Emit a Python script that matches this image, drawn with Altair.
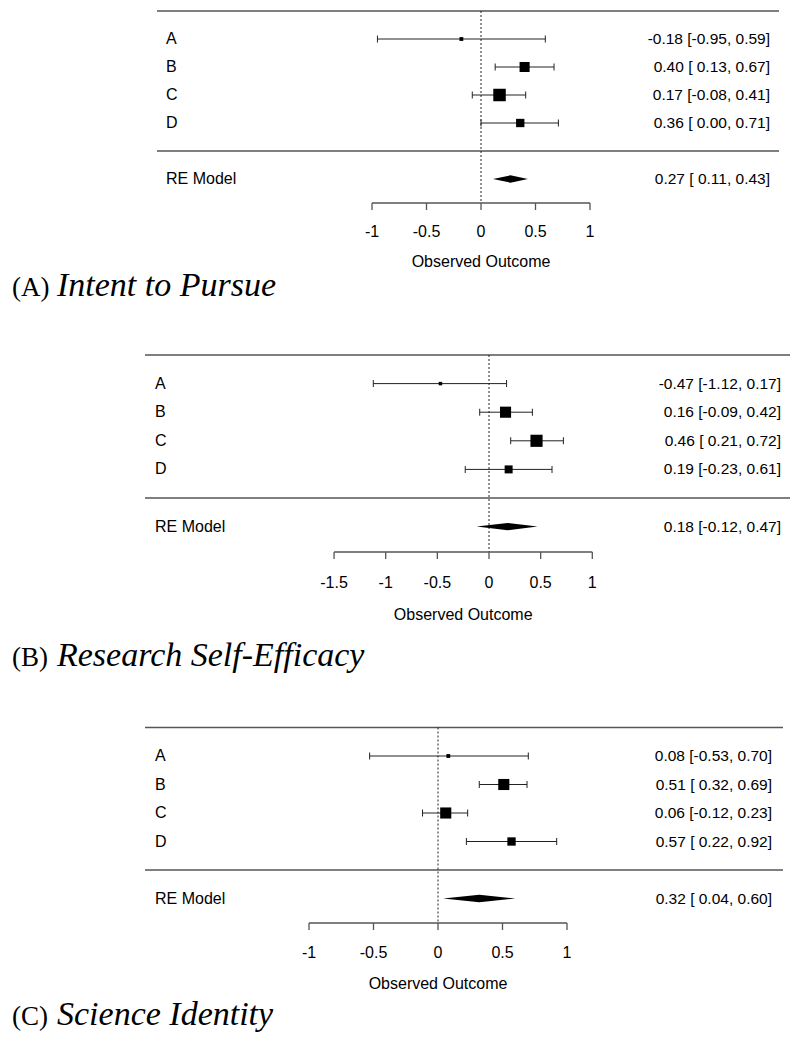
import altair as alt
import pandas as pd

# ---------------- data ----------------
studies = ["A", "B", "C", "D"]
re_label = "RE Model"
tags = ["(A)", "(B)", "(C)"]
outcomes = ["Intent to Pursue", "Research Self-Efficacy", "Science Identity"]
x_title = "Observed Outcome"

est_a = [-0.18, 0.40, 0.17, 0.36]
lo_a = [-0.95, 0.13, -0.08, 0.00]
hi_a = [0.59, 0.67, 0.41, 0.71]
wt_a = [11, 29, 36, 24]
re_a = [0.27, 0.11, 0.43]
ticks_a = [-1, -0.5, 0, 0.5, 1]

est_b = [-0.47, 0.16, 0.46, 0.19]
lo_b = [-1.12, -0.09, 0.21, -0.23]
hi_b = [0.17, 0.42, 0.72, 0.61]
wt_b = [10, 32, 35, 23]
re_b = [0.18, -0.12, 0.47]
ticks_b = [-1.5, -1, -0.5, 0, 0.5, 1]

est_c = [0.08, 0.51, 0.06, 0.57]
lo_c = [-0.53, 0.32, -0.12, 0.22]
hi_c = [0.70, 0.69, 0.23, 0.92]
wt_c = [11, 32, 32, 24]
re_c = [0.32, 0.04, 0.60]
ticks_c = [-1, -0.5, 0, 0.5, 1]

# ---------------- layout (pixels, styles) ----------------
W = 790
SANS = "Liberation Sans"
SERIF = "Liberation Serif"
FS = 16
FS_CI = 15.5
layouts = [
    dict(H=312, row0=143, s=28.0, zero=473, unit=109.0, line=(149, 771), lab_x=158, txt_x=762,
         axis=195, ticklab=224, oo=254, cap=288),
    dict(H=370, row0=178, s=28.6, zero=481, unit=103.3, line=(137, 782), lab_x=147, txt_x=773,
         axis=232, ticklab=263, oo=295, cap=346),
    dict(H=350, row0=180, s=28.5, zero=430, unit=129.0, line=(137, 775), lab_x=147, txt_x=764,
         axis=233, ticklab=263, oo=294, cap=335),
]
DIAMOND_HALF = 0.13  # rows


def fmt_ci(e, l, h):
    return f"{e:.2f} [{l:5.2f}, {h:.2f}]"


def fmt_tick(t):
    return f"{t:g}"


def panel(est, lo, hi, wt, re, ticks, tag, title, L):
    xmin = -L["zero"] / L["unit"]
    xmax = xmin + W / L["unit"]
    rmax = L["row0"] / L["s"]
    rmin = rmax - L["H"] / L["s"]
    xs = alt.Scale(domain=[xmin, xmax], nice=False, zero=False)
    ys = alt.Scale(domain=[rmin, rmax], nice=False, zero=False)

    def X(f):
        return alt.X(f, type="quantitative", scale=xs, axis=None)

    def Y(f):
        return alt.Y(f, type="quantitative", scale=ys, axis=None)

    k = len(est)
    df = pd.DataFrame(dict(study=studies, est=est, lo=lo, hi=hi, wt=wt, row=list(range(k, 0, -1))))
    df["ci"] = [fmt_ci(e, l, h) for e, l, h in zip(est, lo, hi)]

    dre = pd.DataFrame(dict(study=[re_label], row=[-1], ci=[fmt_ci(re[0], re[1], re[2])]))
    ddia = pd.DataFrame(dict(
        x=[re[1], re[0], re[2]],
        y=[-1, -1 + DIAMOND_HALF, -1],
        y2=[-1, -1 - DIAMOND_HALF, -1],
    ))
    dlines = pd.DataFrame(dict(row=[k + 1, 0]))
    dzero = pd.DataFrame(dict(v=[0], top=[k + 1]))
    dticks = pd.DataFrame(dict(t=ticks, lab=[fmt_tick(t) for t in ticks]))
    daxis = pd.DataFrame(dict(a=[ticks[0]], b=[ticks[-1]], c=[(ticks[0] + ticks[-1]) / 2], title=[x_title]))
    dcap = pd.DataFrame(dict(tag=[tag], title=[title]))

    layers = [
        alt.Chart(dlines).mark_rule(stroke="#555555", strokeWidth=1.6).encode(
            x=alt.value(L["line"][0]), x2=alt.value(L["line"][1]), y=Y("row")),
        alt.Chart(dzero).mark_rule(stroke="#222222", strokeWidth=1, strokeDash=[2, 2]).encode(
            x=X("v"), y=Y("top"), y2=alt.value(L["axis"])),
        alt.Chart(df).mark_rule(stroke="#222222", strokeWidth=1).encode(
            x=X("lo"), x2="hi", y=Y("row")),
        alt.Chart(df).mark_tick(orient="vertical", size=7, thickness=1, color="#222222", opacity=1).encode(
            x=X("lo"), y=Y("row")),
        alt.Chart(df).mark_tick(orient="vertical", size=7, thickness=1, color="#222222", opacity=1).encode(
            x=X("hi"), y=Y("row")),
        alt.Chart(df).mark_square(filled=True, color="black", opacity=1).encode(
            x=X("est"), y=Y("row"),
            size=alt.Size("wt", type="quantitative", legend=None,
                          scale=alt.Scale(type="pow", exponent=2, domain=[0, 36], range=[0, 156]))),
        alt.Chart(ddia).mark_area(color="black", opacity=1).encode(
            x=X("x"), y=Y("y"), y2="y2"),
        alt.Chart(df).mark_text(align="left", baseline="middle", font=SANS, fontSize=FS, color="black").encode(
            x=alt.value(L["lab_x"]), y=Y("row"), text="study"),
        alt.Chart(df).mark_text(align="right", baseline="middle", font=SANS, fontSize=FS_CI, color="black").encode(
            x=alt.value(L["txt_x"]), y=Y("row"), text="ci"),
        alt.Chart(dre).mark_text(align="left", baseline="middle", font=SANS, fontSize=FS, color="black").encode(
            x=alt.value(L["lab_x"]), y=Y("row"), text="study"),
        alt.Chart(dre).mark_text(align="right", baseline="middle", font=SANS, fontSize=FS_CI, color="black").encode(
            x=alt.value(L["txt_x"]), y=Y("row"), text="ci"),
        alt.Chart(daxis).mark_rule(stroke="#555555", strokeWidth=1.3).encode(
            x=X("a"), x2="b", y=alt.value(L["axis"])),
        alt.Chart(dticks).mark_rule(stroke="#555555", strokeWidth=1.3).encode(
            x=X("t"), y=alt.value(L["axis"]), y2=alt.value(L["axis"] + 7)),
        alt.Chart(dticks).mark_text(align="center", baseline="middle", font=SANS, fontSize=FS, color="black").encode(
            x=X("t"), y=alt.value(L["ticklab"]), text="lab"),
        alt.Chart(daxis).mark_text(align="center", baseline="middle", font=SANS, fontSize=FS, color="black").encode(
            x=X("c"), y=alt.value(L["oo"]), text="title"),
        alt.Chart(dcap).mark_text(align="left", baseline="alphabetic", font=SERIF, fontSize=27, color="black").encode(
            x=alt.value(4), y=alt.value(L["cap"]), text="tag"),
        alt.Chart(dcap).mark_text(align="left", baseline="alphabetic", font=SERIF, fontSize=34, fontStyle="italic",
                                  color="black").encode(
            x=alt.value(49), y=alt.value(L["cap"]), text="title"),
    ]
    return alt.layer(*layers).properties(width=W, height=L["H"])


panels = [
    panel(est_a, lo_a, hi_a, wt_a, re_a, ticks_a, tags[0], outcomes[0], layouts[0]),
    panel(est_b, lo_b, hi_b, wt_b, re_b, ticks_b, tags[1], outcomes[1], layouts[1]),
    panel(est_c, lo_c, hi_c, wt_c, re_c, ticks_c, tags[2], outcomes[2], layouts[2]),
]

chart = alt.vconcat(*panels, spacing=0, bounds="flush").properties(
    padding=0, background="white"
).configure_view(stroke=None)

chart.save("out.html", embed_options={"renderer": "svg", "actions": False})
